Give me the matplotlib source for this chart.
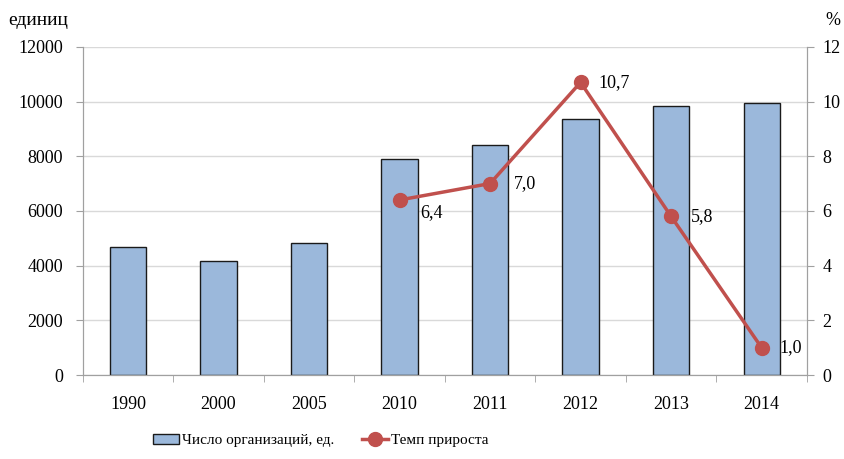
import matplotlib
matplotlib.use('Agg')
import matplotlib.pyplot as plt
import numpy as np

years = ['1990', '2000', '2005', '2010', '2011', '2012', '2013', '2014']
orgs = [4680, 4170, 4830, 7900, 8410, 9360, 9840, 9960]
growth_years = ['2010', '2011', '2012', '2013', '2014']
growth = [6.4, 7.0, 10.7, 5.8, 1.0]
growth_labels = ['6,4', '7,0', '10,7', '5,8', '1,0']

plt.rcParams['font.family'] = ['Liberation Serif', 'DejaVu Serif']
plt.rcParams['font.size'] = 13

fig = plt.figure(figsize=(8.44, 4.59), dpi=100)
ax = fig.add_axes([0.098, 0.183, 0.858, 0.715])
ax2 = ax.twinx()

x = np.arange(len(years))
bars = ax.bar(x, orgs, width=0.4, color='#9bb8db', edgecolor='#1a1a1a', linewidth=1.0,
              label='Число организаций, ед.', zorder=2)
ax.set_xlim(-0.5, len(years) - 0.5)
ax.set_ylim(0, 12000)
ax.set_yticks(range(0, 12001, 2000))
ax.yaxis.grid(True, color='#d9d9d9', linewidth=1.0, zorder=0)
ax.set_axisbelow(True)

ax.set_xticks(x)
ax.set_xticklabels(years)
ax.set_xticks(np.arange(-0.5, len(years)), minor=True)
ax.tick_params(axis='x', which='major', length=0, pad=15)
ax.tick_params(axis='x', which='minor', length=5, color='#a0a0a0', direction='out')
ax.tick_params(axis='y', length=5, color='#a0a0a0', direction='out', pad=9)

gx = [years.index(y) for y in growth_years]
line, = ax2.plot(gx, growth, color='#c0504d', linewidth=2.5, marker='o', markersize=10,
                 label='Темп прироста', zorder=3)
ax2.set_ylim(0, 12)
ax2.set_yticks(range(0, 13, 2))
ax2.tick_params(axis='y', length=5, color='#a0a0a0', direction='out', pad=6)

offsets = [(15, -9), (17, 0), (13, 0), (14, 0), (13, 0)]
for xi, yi, lab, off in zip(gx, growth, growth_labels, offsets):
    ax2.annotate(lab, (xi, yi), xytext=off, textcoords='offset points',
                 va='center', ha='left', fontsize=13)

for a in (ax, ax2):
    a.spines['top'].set_visible(False)
    for s in ('left', 'right', 'bottom'):
        a.spines[s].set_color('#a0a0a0')

fig.text(0.01, 0.955, 'единиц', fontsize=14, ha='left', va='center')
fig.text(0.978, 0.955, '%', fontsize=13, ha='left', va='center')

fig.legend(handles=[bars, line], loc='center', bbox_to_anchor=(0.38, 0.04), ncol=2,
           frameon=False, fontsize=11, handlelength=1.7, handletextpad=0.2,
           columnspacing=1.8)

fig.savefig('out.png', dpi=100)
